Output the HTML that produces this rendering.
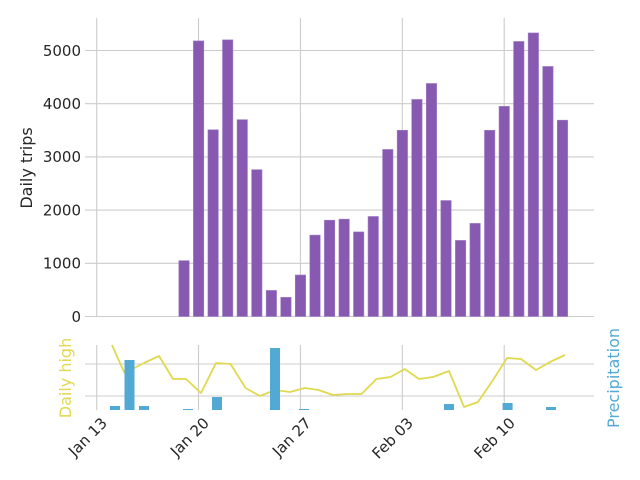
<!DOCTYPE html>
<html><head><meta charset="utf-8"><style>
html,body{margin:0;padding:0;background:#fff;}
svg{display:block;font-family:"DejaVu Sans","Liberation Sans",sans-serif;}
</style></head><body>
<svg width="640" height="480" viewBox="0 0 640 480" xmlns="http://www.w3.org/2000/svg">
<g stroke="#cccccc" stroke-width="1.1">
<line x1="85" y1="316.5" x2="594" y2="316.5"/>
<line x1="85" y1="263.3" x2="594" y2="263.3"/>
<line x1="85" y1="210.1" x2="594" y2="210.1"/>
<line x1="85" y1="156.9" x2="594" y2="156.9"/>
<line x1="85" y1="103.7" x2="594" y2="103.7"/>
<line x1="85" y1="50.5" x2="594" y2="50.5"/>
<line x1="96.7" y1="18" x2="96.7" y2="317"/>
<line x1="198.5" y1="18" x2="198.5" y2="317"/>
<line x1="300.4" y1="18" x2="300.4" y2="317"/>
<line x1="402.3" y1="18" x2="402.3" y2="317"/>
<line x1="504.2" y1="18" x2="504.2" y2="317"/>
<line x1="85" y1="364" x2="594" y2="364"/>
<line x1="85" y1="396" x2="594" y2="396"/>
<line x1="96.7" y1="345" x2="96.7" y2="410"/>
<line x1="198.5" y1="345" x2="198.5" y2="410"/>
<line x1="300.4" y1="345" x2="300.4" y2="410"/>
<line x1="402.3" y1="345" x2="402.3" y2="410"/>
<line x1="504.2" y1="345" x2="504.2" y2="410"/>
</g>
<g fill="#262626" font-size="15" text-anchor="end">
<text x="81" y="321.8">0</text>
<text x="81" y="268.6">1000</text>
<text x="81" y="215.4">2000</text>
<text x="81" y="162.2">3000</text>
<text x="81" y="109">4000</text>
<text x="81" y="55.8">5000</text>
</g>
<text transform="translate(32,168) rotate(-90)" font-size="16" fill="#262626" text-anchor="middle">Daily trips</text>
<g fill="#8759b1" stroke="#a07fc8" stroke-width="0.6">
<rect x="178.83" y="260.64" width="10.4" height="55.86"/>
<rect x="193.39" y="40.92" width="10.4" height="275.58"/>
<rect x="207.94" y="129.77" width="10.4" height="186.73"/>
<rect x="222.50" y="39.86" width="10.4" height="276.64"/>
<rect x="237.05" y="119.66" width="10.4" height="196.84"/>
<rect x="251.61" y="169.67" width="10.4" height="146.83"/>
<rect x="266.16" y="290.43" width="10.4" height="26.07"/>
<rect x="280.72" y="297.35" width="10.4" height="19.15"/>
<rect x="295.27" y="275.0" width="10.4" height="41.5"/>
<rect x="309.83" y="235.1" width="10.4" height="81.4"/>
<rect x="324.38" y="220.21" width="10.4" height="96.29"/>
<rect x="338.94" y="219.14" width="10.4" height="97.36"/>
<rect x="353.49" y="231.91" width="10.4" height="84.59"/>
<rect x="368.05" y="216.48" width="10.4" height="100.02"/>
<rect x="382.60" y="149.45" width="10.4" height="167.05"/>
<rect x="397.16" y="130.3" width="10.4" height="186.2"/>
<rect x="411.71" y="99.44" width="10.4" height="217.06"/>
<rect x="426.27" y="83.48" width="10.4" height="233.02"/>
<rect x="440.82" y="200.52" width="10.4" height="115.98"/>
<rect x="455.38" y="240.42" width="10.4" height="76.08"/>
<rect x="469.93" y="223.4" width="10.4" height="93.1"/>
<rect x="484.49" y="130.3" width="10.4" height="186.2"/>
<rect x="499.04" y="106.36" width="10.4" height="210.14"/>
<rect x="513.60" y="41.46" width="10.4" height="275.04"/>
<rect x="528.15" y="32.94" width="10.4" height="283.56"/>
<rect x="542.71" y="66.46" width="10.4" height="250.04"/>
<rect x="557.26" y="120.19" width="10.4" height="196.31"/>
</g>
<polyline fill="none" stroke="#e0d94f" stroke-width="1.8" stroke-linejoin="round"
points="112,345 124.5,373 144,363 159,356 173,379 186,379 201,393 216,363 230.5,364 245.6,388 260,396 275,390 290,392 305,388 318.6,390 333,395 347,394 361.5,394 376.5,379 390.5,377 404.7,369 419,379 433,377 449,371 464,407 478,402 493,380 507,358 521,359 536,370 550,362 565,355"/>
<g fill="#52a9d4">
<rect x="110" y="406" width="10" height="4"/>
<rect x="124.5" y="360" width="10" height="50"/>
<rect x="139" y="406" width="10" height="4"/>
<rect x="183" y="409" width="10" height="1"/>
<rect x="212" y="397" width="10" height="13"/>
<rect x="270" y="348" width="10" height="62"/>
<rect x="299" y="409" width="10" height="1"/>
<rect x="444" y="404" width="10" height="6"/>
<rect x="502.6" y="403" width="10" height="7"/>
<rect x="546" y="407" width="10" height="3"/>
</g>
<text transform="translate(71,378) rotate(-90)" font-size="16" fill="#e0d94f" text-anchor="middle">Daily high</text>
<text transform="translate(619,378) rotate(-90)" font-size="16" fill="#52a9d4" text-anchor="middle">Precipitation</text>
<g fill="#262626" font-size="15" text-anchor="end">
<text transform="translate(108,424) rotate(-45)">Jan 13</text>
<text transform="translate(210,424) rotate(-45)">Jan 20</text>
<text transform="translate(312,424) rotate(-45)">Jan 27</text>
<text transform="translate(414,424) rotate(-45)">Feb 03</text>
<text transform="translate(516,424) rotate(-45)">Feb 10</text>
</g>
</svg>
</body></html>
